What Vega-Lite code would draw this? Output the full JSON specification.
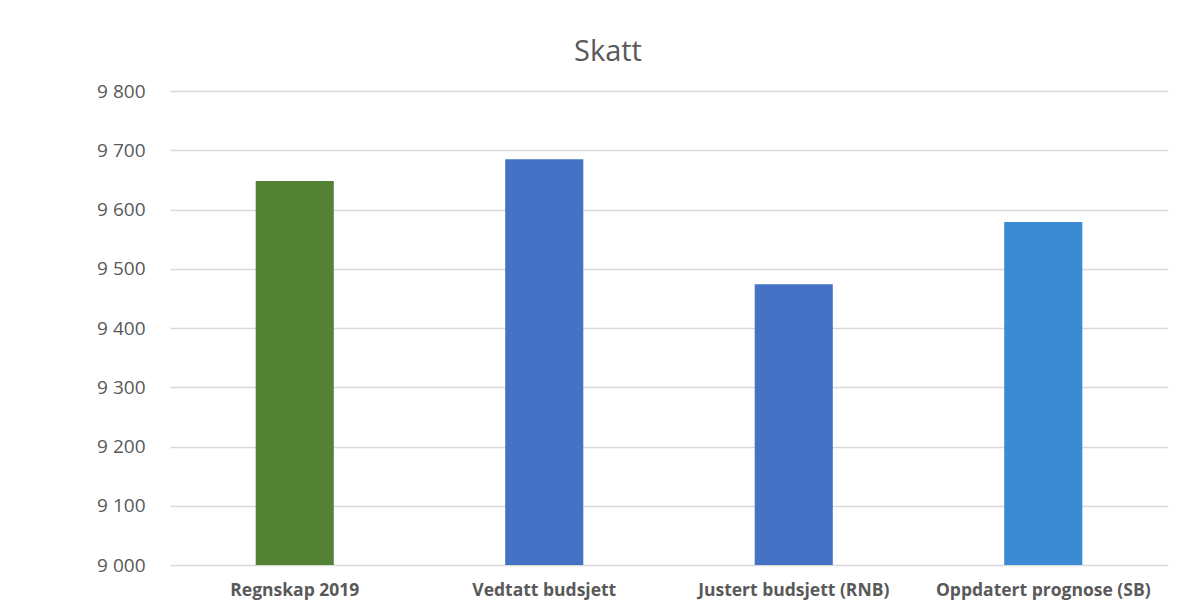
{
  "$schema": "https://vega.github.io/schema/vega-lite/v6.json",
  "autosize": "none",
  "width": 998,
  "height": 474,
  "padding": {"left": 170, "top": 91, "right": 28, "bottom": 47},
  "background": "white",
  "title": {
    "text": "Skatt",
    "font": "Open Sans",
    "fontSize": 29,
    "fontWeight": "normal",
    "color": "#595959",
    "anchor": "middle",
    "dx": -61,
    "offset": 15
  },
  "data": {
    "values": [
      {"kategori": "Regnskap 2019", "verdi": 9648},
      {"kategori": "Vedtatt budsjett", "verdi": 9685},
      {"kategori": "Justert budsjett (RNB)", "verdi": 9474},
      {"kategori": "Oppdatert prognose (SB)", "verdi": 9579}
    ]
  },
  "mark": {"type": "bar", "clip": true},
  "encoding": {
    "x": {
      "field": "kategori",
      "type": "nominal",
      "sort": null,
      "scale": {"paddingInner": 0.687, "paddingOuter": 0.3435},
      "axis": {
        "title": null,
        "labelAngle": 0,
        "labelFont": "Open Sans",
        "labelFontSize": 17.5,
        "labelFontWeight": "bold",
        "labelColor": "#595959",
        "labelPadding": 16,
        "labelLimit": 0,
        "domain": false,
        "ticks": false,
        "grid": false
      }
    },
    "y": {
      "field": "verdi",
      "type": "quantitative",
      "scale": {"domain": [9000, 9800], "zero": false, "nice": false},
      "axis": {
        "title": null,
        "values": [9000, 9100, 9200, 9300, 9400, 9500, 9600, 9700, 9800],
        "labelExpr": "replace(format(datum.value, ',d'), ',', ' ')",
        "labelFont": "Open Sans",
        "labelFontSize": 19,
        "labelColor": "#595959",
        "labelPadding": 25,
        "domain": false,
        "ticks": false,
        "grid": true,
        "gridColor": "#d9d9d9",
        "gridWidth": 1.5
      }
    },
    "color": {
      "field": "kategori",
      "type": "nominal",
      "sort": null,
      "scale": {
        "domain": ["Regnskap 2019", "Vedtatt budsjett", "Justert budsjett (RNB)", "Oppdatert prognose (SB)"],
        "range": ["#548235", "#4472c4", "#4472c4", "#3a8ad4"]
      },
      "legend": null
    }
  },
  "config": {
    "view": {"stroke": null}
  }
}
